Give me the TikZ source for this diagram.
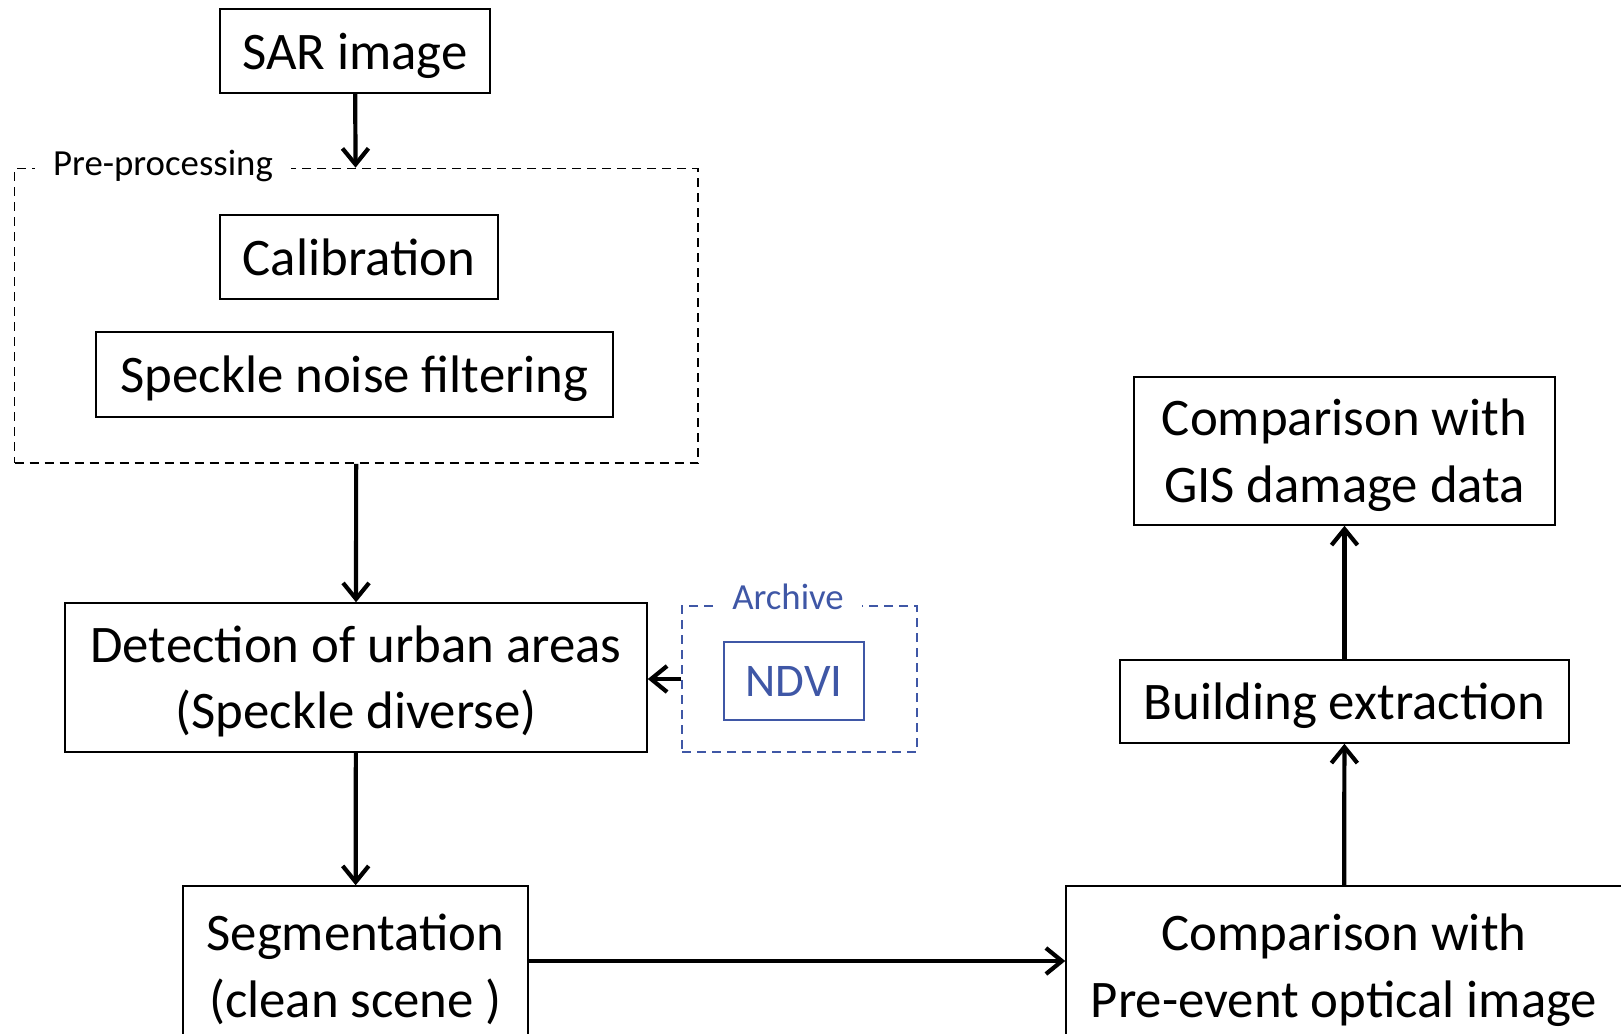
\documentclass[tikz,border=0pt]{standalone}
\usepackage{fontspec}
\setmainfont{Carlito}
\usetikzlibrary{arrows.meta}

\newcommand{\linestrut}{\rule[-0.269em]{0pt}{1.221em}}

\begin{document}
\begin{tikzpicture}[x=0.5pt,y=-0.5pt]
        \definecolor{archblue}{HTML}{3F57A6}
        \tikzset{
            box/.style={draw,line width=0.75pt,inner sep=0pt,align=center,font=\fontsize{26.4}{32}\selectfont,
                execute at begin node=\linestrut,execute at end node=\linestrut},
            frame/.style={draw,dash pattern=on 4.5pt off 3pt,line width=0.8pt,inner sep=0pt},
            tag/.style={fill=white,inner xsep=9pt,inner ysep=1pt,font=\fontsize{18.4}{22}\selectfont,
                execute at begin node=\linestrut},
            flow/.style={line width=2.1pt,-{Straight Barb[length=8pt,width=13pt,line width=2.1pt]}},
        }
        \clip (0,0) rectangle (1621,1033);
        \node[box,minimum width=135pt,minimum height=42pt] (sar) at (355,51) {SAR image};
        \node[frame,minimum width=341.75pt,minimum height=147.25pt] (pre) at (356.25,315.75) {};
        \node[tag] (pretag) at (163,163) {Pre-processing};
        \node[box,minimum width=139pt,minimum height=42pt] (calib) at (359,257) {Calibration};
        \node[box,minimum width=258.5pt,minimum height=42.5pt] (speckle) at (354.5,374.5) {Speckle noise filtering};
        \node[box,minimum width=291pt,minimum height=74.5pt] (detect) at (356,677.5)
            {\linestrut Detection of urban areas\\(Speckle diverse)\linestrut};
        \node[frame,draw=archblue,minimum width=117.5pt,minimum height=73pt] (arch) at (799.5,679) {};
        \node[tag,text=archblue] (archtag) at (788,597) {Archive};
        \node[box,draw=archblue,text=archblue,font=\fontsize{23.4}{28}\selectfont,minimum width=70pt,minimum height=39pt] (ndvi) at (794,681) {NDVI};
        \node[box,minimum width=172.5pt,minimum height=80pt] (seg) at (355.5,966)
            {\linestrut Segmentation\\(clean scene )\linestrut};
        \node[box,minimum width=278pt,minimum height=80pt] (comp) at (1344,966)
            {\linestrut Comparison with\\Pre-event optical image\linestrut};
        \node[box,minimum width=224.5pt,minimum height=41.5pt] (build) at (1344.5,701.5) {Building extraction};
        \node[box,minimum width=210.5pt,minimum height=74pt] (gis) at (1344.5,451)
            {\linestrut Comparison with\\ GIS damage data\linestrut};
        \draw[flow] (sar) -- (pre);
        \draw[flow] (pre) -- (detect);
        \draw[flow] (arch.west) -- (detect.east |- arch.west);
        \draw[flow] (detect) -- (seg);
        \draw[flow] ([yshift=2.5pt]seg.east) -- ([yshift=2.5pt]comp.west);
        \draw[flow] (comp) -- (build);
        \draw[flow] (build) -- (gis);
    \end{tikzpicture}
\end{document}
